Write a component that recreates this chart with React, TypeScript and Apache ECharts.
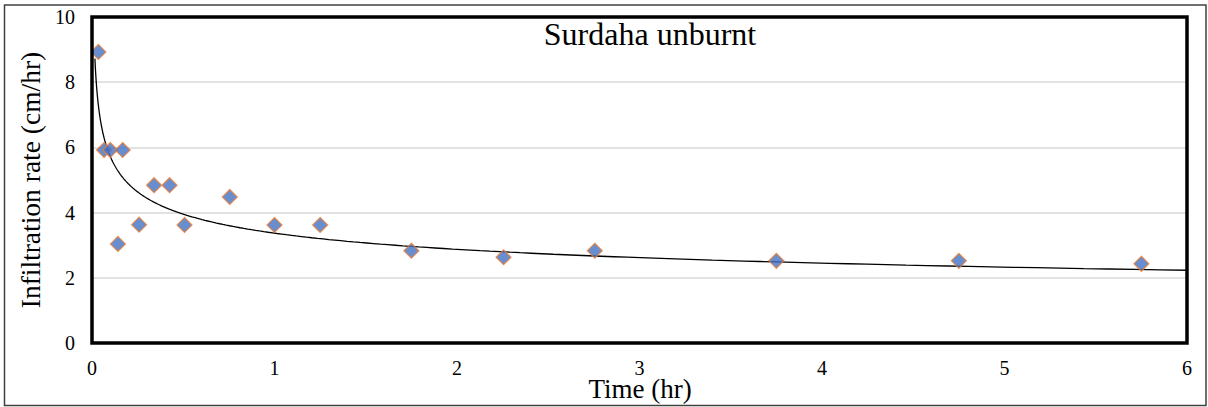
import React, { useEffect, useRef } from "react";
import * as echarts from "echarts";

// Observed infiltration data (time in hours, rate in cm/hr)
const timeHr = [0.035, 0.066, 0.1, 0.142, 0.168, 0.258, 0.34, 0.425, 0.507, 0.755, 1.0, 1.25, 1.75, 2.255, 2.755, 3.75, 4.75, 5.75];
const rateCmHr = [8.93, 5.92, 5.92, 3.04, 5.92, 3.63, 4.84, 4.84, 3.62, 4.48, 3.62, 3.62, 2.83, 2.63, 2.83, 2.52, 2.52, 2.43];

// Power trendline y = A * x^B, coefficients
const TREND_A = 3.37;
const TREND_B = -0.23;
const TREND_X_START = 0.016;
const TREND_X_END = 6;

const xTicks = [0, 1, 2, 3, 4, 5, 6];
const yTicks = [0, 2, 4, 6, 8, 10];

const TITLE = "Surdaha unburnt";
const X_TITLE = "Time (hr)";
const Y_TITLE = "Infiltration rate (cm/hr)";

const FONT = "Liberation Serif";

const GRID = { left: 92, right: 21, top: 17, bottom: 64 };
const W = 1208;
const H = 407;

function trendPoints(): number[][] {
  const pts: number[][] = [];
  const n = 240;
  const l0 = Math.log(TREND_X_START);
  const l1 = Math.log(TREND_X_END);
  for (let i = 0; i <= n; i++) {
    const x = Math.exp(l0 + ((l1 - l0) * i) / n);
    pts.push([x, TREND_A * Math.pow(x, TREND_B)]);
  }
  return pts;
}

export default function App() {
  const ref = useRef<HTMLDivElement>(null);
  useEffect(() => {
    if (!ref.current) return;
    const chart = echarts.init(ref.current, null, { renderer: "svg" });
    const scatter = timeHr.map((t, i) => [t, rateCmHr[i]]);
    chart.setOption({
      animation: false,
      backgroundColor: "#ffffff",
      textStyle: { fontFamily: FONT },
      grid: {
        left: GRID.left,
        right: GRID.right,
        top: GRID.top,
        bottom: GRID.bottom,
        containLabel: false,
        outerBoundsMode: "none",
        show: false,
      },
      xAxis: {
        type: "value",
        min: xTicks[0],
        max: xTicks[xTicks.length - 1],
        interval: 1,
        axisLine: { show: false },
        axisTick: { show: false },
        splitLine: { show: false },
        axisLabel: {
          margin: 15,
          fontFamily: FONT,
          fontSize: 20,
          color: "#000000",
        },
      },
      yAxis: {
        type: "value",
        min: yTicks[0],
        max: yTicks[yTicks.length - 1],
        interval: 2,
        axisLine: { show: false },
        axisTick: { show: false },
        splitLine: { show: true, lineStyle: { color: "#D9D9D9", width: 1.5 } },
        axisLabel: {
          margin: 17,
          fontFamily: FONT,
          fontSize: 20,
          color: "#000000",
        },
        name: Y_TITLE,
        nameLocation: "middle",
        nameGap: 47,
        nameTextStyle: { fontFamily: FONT, fontSize: 27.5, color: "#000000" },
      },
      graphic: [
        {
          type: "rect",
          silent: true,
          shape: { x: 4.5, y: 5, width: 1201.5, height: 400.5 },
          style: { fill: "none", stroke: "#404040", lineWidth: 1.5 },
          z: 100,
        },
        {
          type: "rect",
          silent: true,
          shape: {
            x: GRID.left,
            y: GRID.top,
            width: W - GRID.left - GRID.right,
            height: H - GRID.top - GRID.bottom,
          },
          style: { fill: "none", stroke: "#000000", lineWidth: 3.5 },
          z: 100,
        },
        {
          type: "text",
          silent: true,
          x: 650,
          y: 34,
          style: {
            text: TITLE,
            fontFamily: FONT,
            fontSize: 32,
            fill: "#000000",
            align: "center",
            verticalAlign: "middle",
          },
          z: 100,
        },
        {
          type: "text",
          silent: true,
          x: 640,
          y: 389,
          style: {
            text: X_TITLE,
            fontFamily: FONT,
            fontSize: 27,
            fill: "#000000",
            align: "center",
            verticalAlign: "middle",
          },
          z: 100,
        },
      ],
      series: [
        {
          type: "line",
          data: trendPoints(),
          showSymbol: false,
          symbol: "none",
          lineStyle: { color: "#000000", width: 1.3 },
          z: 2,
          silent: true,
        },
        {
          type: "scatter",
          data: scatter,
          symbol: "diamond",
          symbolSize: 15,
          itemStyle: { color: "#4472C4", borderColor: "#ED7D31", borderWidth: 1.2 },
          z: 3,
        },
      ],
    });
    return () => chart.dispose();
  }, []);
  return (
    <div
      ref={ref}
      style={{ position: "absolute", left: 0, top: 0, width: W, height: H }}
    />
  );
}
